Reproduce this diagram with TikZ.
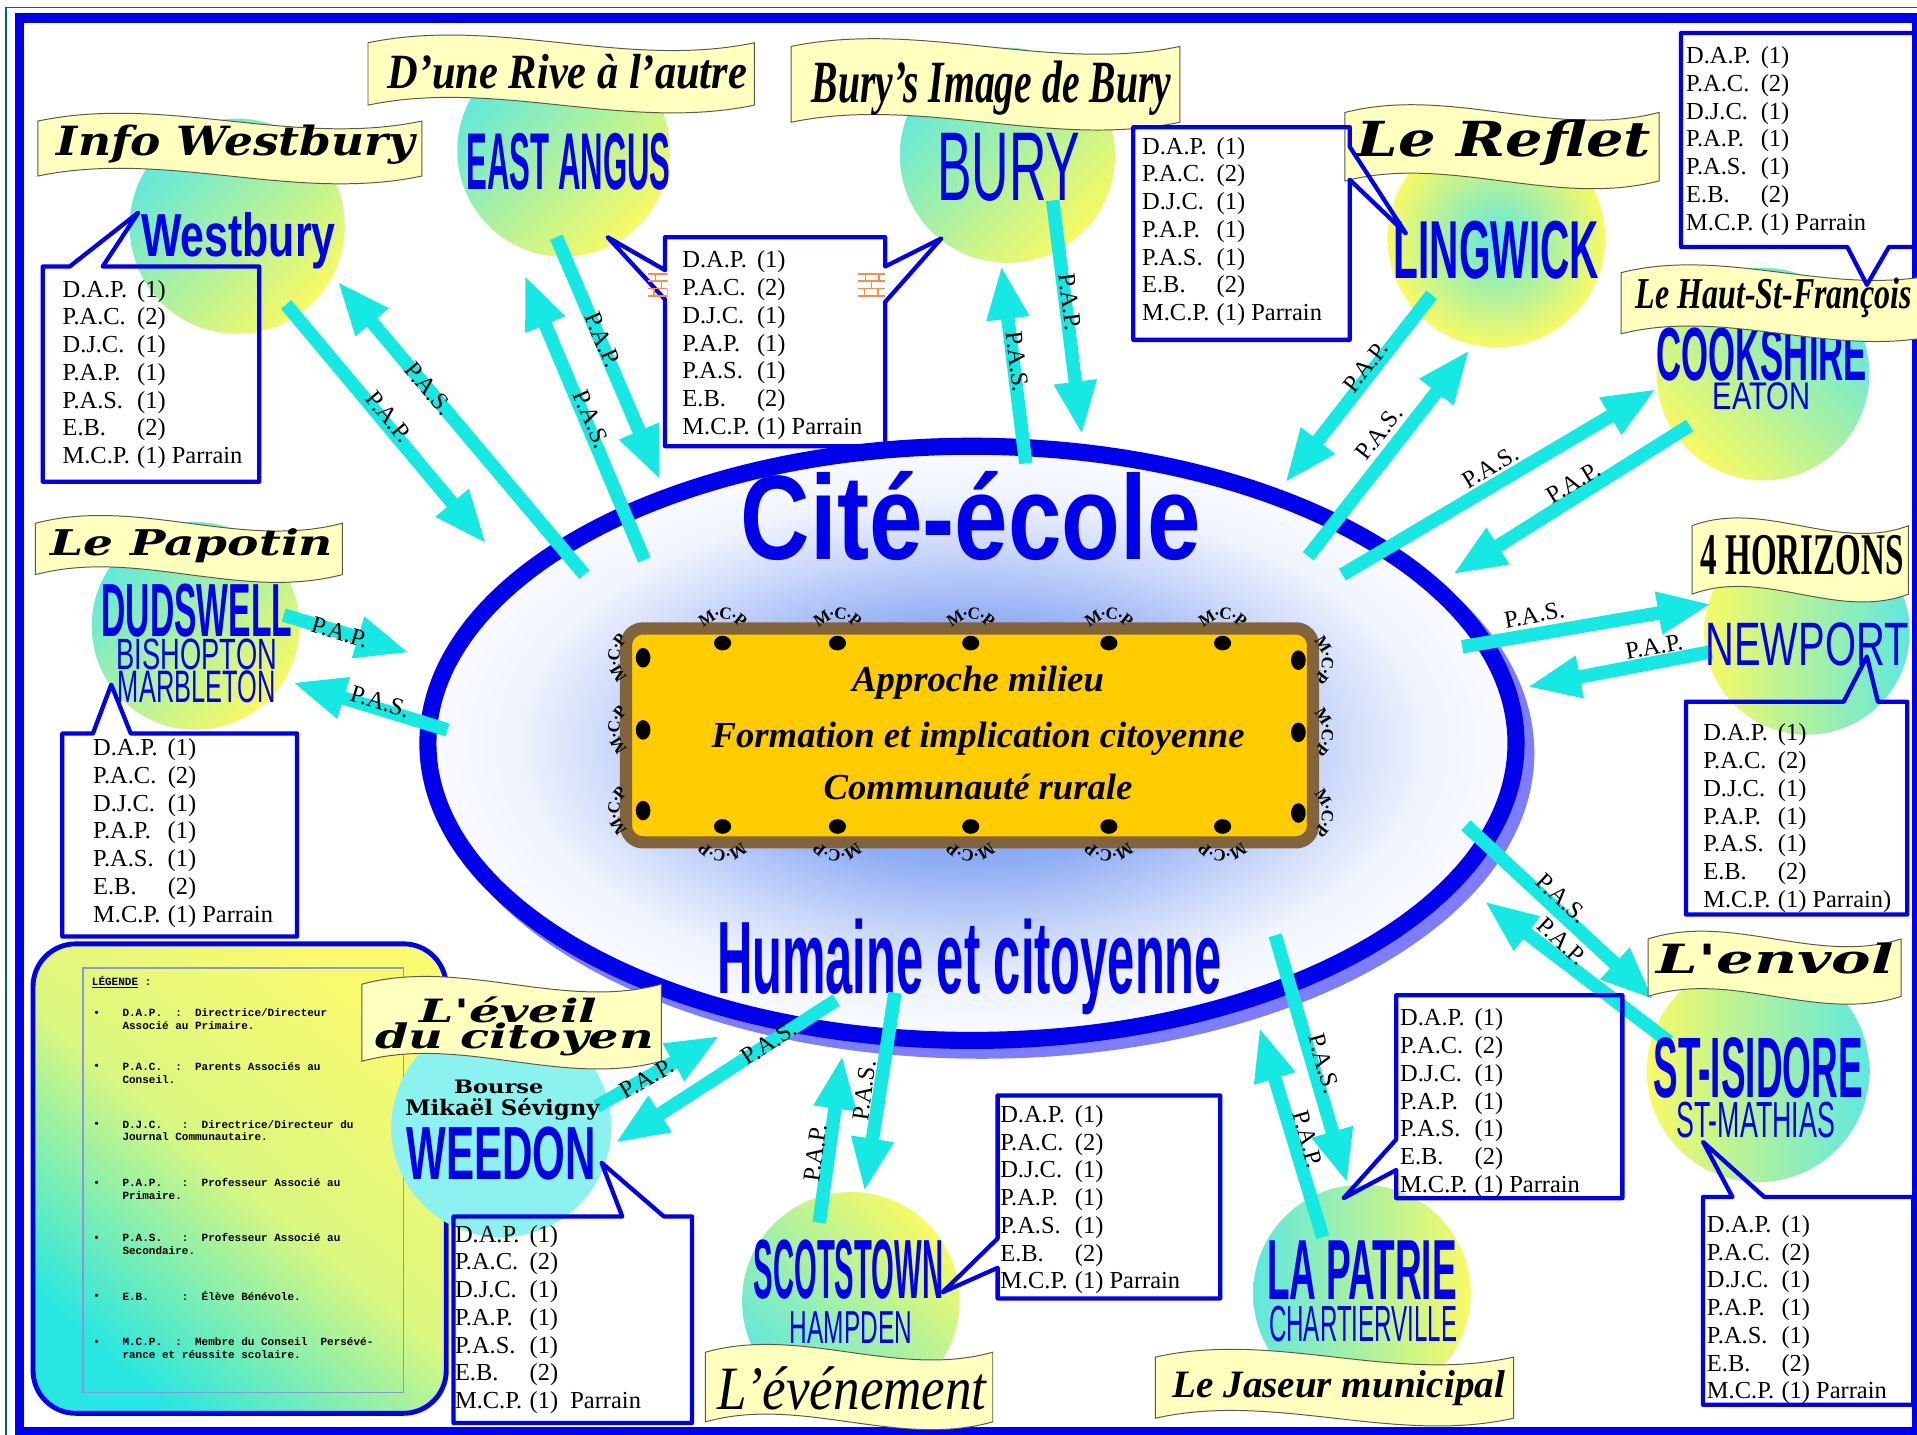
\documentclass[tikz,border=0pt]{standalone}
\usepackage{fontspec}
\setmainfont{Liberation Serif}
\newfontfamily\townfont{Liberation Sans}
\newfontfamily\wavefont{DejaVu Serif}
\newfontfamily\legfont{Liberation Mono}
\usetikzlibrary{arrows.meta,shapes.geometric,calc}

\definecolor{framecol}{RGB}{0,0,240}
\definecolor{tealline}{RGB}{0,105,105}
\definecolor{ellblue}{RGB}{0,0,235}
\definecolor{shadowblue}{RGB}{125,125,255}
\definecolor{glowblue}{RGB}{105,145,240}
\definecolor{gold}{RGB}{255,204,0}
\definecolor{boxbrown}{RGB}{130,100,60}
\definecolor{flowcyan}{RGB}{22,232,228}
\definecolor{gcyan}{RGB}{95,232,222}
\definecolor{gyellow}{RGB}{248,250,100}
\definecolor{weedcyan}{RGB}{140,242,240}
\definecolor{flagfill}{RGB}{255,255,190}
\definecolor{flagline}{RGB}{90,90,70}
\definecolor{nameblue}{RGB}{0,0,235}
\definecolor{legcyan}{RGB}{40,230,225}
\definecolor{legyellow}{RGB}{250,250,110}
\definecolor{leginner}{RGB}{140,150,220}
\definecolor{brickcol}{RGB}{255,140,70}

% glow inside the school: the ellipse edge sits at 25bp
\pgfdeclareradialshading{cityglow}{\pgfpoint{0bp}{0bp}}{%
  color(0bp)=(glowblue); color(10bp)=(glowblue!75!white);
  color(16bp)=(glowblue!38!white); color(21bp)=(glowblue!10!white);
  color(25bp)=(glowblue!4!white); color(50bp)=(glowblue!4!white)}

% names and banner texts, squeezed to the measured box
\newcommand\bigname[3]{\resizebox{#1pt}{#2pt}{\townfont\bfseries #3}}
\newcommand\subname[3]{\resizebox{#1pt}{#2pt}{\townfont #3}}
\newcommand\wavetext[3]{\resizebox{#1pt}{#2pt}{\wavefont\bfseries\itshape #3}}
\newcommand\slimtext[3]{\resizebox{#1pt}{#2pt}{\bfseries\itshape #3}}

% list of members in each box
\newcommand\roster[1]{%
  \begin{tabular}[t]{@{}l@{\hspace{6pt}}l@{}}
    D.A.P. & (1)\\ P.A.C. & (2)\\ D.J.C. & (1)\\ P.A.P. & (1)\\
    P.A.S. & (1)\\ E.B. & (2)\\ M.C.P. & (1) #1
  \end{tabular}}

% wavy banner: x0, x1, ytop, ybottom
\newcommand\flag[4]{%
  \filldraw[flagshape] (#1,#3) .. controls ({#1+(#2-#1)/3},{#3-22}) and ({#1+2*(#2-#1)/3},{#3+22}) .. (#2,#3)
    -- (#2,#4) .. controls ({#1+2*(#2-#1)/3},{#4+22}) and ({#1+(#2-#1)/3},{#4-22}) .. (#1,#4) -- cycle;}

% M.C.P. written round a dot: x, y, outward angle
\newcommand\mcparc[3]{%
  \foreach \ch/\da in {M/32,./11,C/-6,./-23,P/-38}{
    \node[mcp, rotate={#3+\da-90}] at ({#1+24*cos(#3+\da)},{#2-24*sin(#3+\da)}) {\ch};}}

% small orange bricks
\newcommand\brickicon[2]{%
  \begin{scope}[shift={(#1,#2)}]
    \draw[brickcol, line width=1.2pt] (-11,-9) -- (11,-9) (-11,-3) -- (11,-3) (-11,3) -- (11,3) (-11,9) -- (11,9)
      (-5,-9) -- (-5,-3) (6,-9) -- (6,-3) (0,-3) -- (0,3) (-6,3) -- (-6,9) (5,3) -- (5,9);
  \end{scope}}

\begin{document}
\begin{tikzpicture}[x=1pt, y=-1pt,
    flow/.style={draw=flowcyan, line width=11pt, -{Triangle[length=44pt,width=32pt]}},
    lbl/.style={inner sep=0pt, font=\fontsize{20}{20}\selectfont},
    globe/.style={circle, inner sep=0pt, minimum size=#1},
    cyanTL/.style={shade, top color=gcyan, bottom color=gyellow, shading angle=45},
    cyanTR/.style={shade, top color=gcyan, bottom color=gyellow, shading angle=-45},
    cyanBL/.style={shade, top color=gyellow, bottom color=gcyan, shading angle=-45},
    cyanR/.style={shade, left color=gyellow, right color=gcyan},
    cyanL/.style={shade, left color=gcyan, right color=gyellow},
    cyanMid/.style={shade, inner color=gcyan, outer color=gyellow},
    townlbl/.style={inner sep=0pt, anchor=base, text=nameblue},
    flagshape/.style={fill=flagfill, draw=flagline, line width=0.8pt},
    flagtxt/.style={inner sep=0pt, anchor=base},
    listbox/.style={draw=ellblue, line width=3.5pt, line join=round},
    members/.style={inner sep=0pt, anchor=base west, font=\fontsize{20}{22.7}\selectfont},
    mcp/.style={inner sep=0pt, font=\bfseries\fontsize{14}{14}\selectfont},
    legitem/.style={inner sep=0pt, anchor=north west, align=left, font=\legfont\bfseries\fontsize{9}{10.5}\selectfont}
  ]
  \fill[white] (0,0) rectangle (1568,1173);
  \useasboundingbox (0,0) rectangle (1568,1173);
  \clip (0,0) rectangle (1568,1173);

  % Frame
  \draw[tealline, line width=1.2pt] (5,6) rectangle (1590,1190);
  \draw[framecol, line width=8pt] (16,15) rectangle (1568,1171);

  % The school
  \draw[shadowblue, line width=14pt] (803,616) ellipse [x radius=445, y radius=243];
  \node[ellipse, shade, shading=cityglow, draw=ellblue, line width=14pt, minimum width=890pt, minimum height=486pt, inner sep=0pt] (cite) at (795,608) {};
  \node[draw=boxbrown, fill=gold, line width=10pt, rounded corners=14pt, minimum width=562pt, minimum height=175pt, inner sep=0pt] (core) at (793,601.5) {};

  % Dots and M.C.P. round the core
  \foreach \px in {591,685,794,907,1000}{
    \fill (\px,526) ellipse [x radius=7, y radius=6];
    \fill (\px,676) ellipse [x radius=7, y radius=6];
    \mcparc{\px}{526}{90}
    \mcparc{\px}{676}{270}
  }
  \foreach \py in {538,597,663}{
    \fill (526,\py) ellipse [x radius=6, y radius=8];
    \fill (1062,\py+2) ellipse [x radius=6, y radius=8];
    \mcparc{526}{\py}{180}
    \mcparc{1062}{\py+2}{0}
  }
  \node[inner sep=0pt, anchor=base, font=\bfseries\itshape\fontsize{30}{30}\selectfont] (aim1) at (800,566) {Approche milieu};
  \node[inner sep=0pt, anchor=base, font=\bfseries\itshape\fontsize{30}{30}\selectfont] (aim2) at (800,611) {Formation et implication citoyenne};
  \node[inner sep=0pt, anchor=base, font=\bfseries\itshape\fontsize{30}{30}\selectfont] (aim3) at (800,654) {Communauté rurale};

  \node[townlbl] (title1) at (794,458) {\bigname{376}{72}{Cité-école}};
  \node[townlbl] (title2) at (793,813) {\bigname{413}{61}{Humaine et citoyenne}};

  % Legend
  \shade[rounded corners=35pt, top color=legyellow, bottom color=legcyan, middle color=legyellow!85!legcyan, shading angle=-40] (27,772) rectangle (365,1156);
  \draw[framecol, line width=4pt, rounded corners=35pt] (27,772) rectangle (365,1156);
  \draw[leginner, line width=1.5pt] (68,792) rectangle (330,1139);
  \node[legitem, anchor=base west] (legtitle) at (75,806) {\underline{LÉGENDE} :};
  \foreach \yy in {829,873,920,968,1013,1061,1098}
    \node[legitem, anchor=center] (bul-\yy) at (79,\yy) {\textbullet};
  \node[legitem] (leg1) at (100,825) {D.A.P.~~:~~Directrice/Directeur\\Associé au Primaire.};
  \node[legitem] (leg2) at (100,869) {P.A.C.~~:~~Parents Associés au\\Conseil.};
  \node[legitem] (leg3) at (100,916) {D.J.C.~~~:~~Directrice/Directeur du\\Journal Communautaire.};
  \node[legitem] (leg4) at (100,964) {P.A.P.~~~:~~Professeur Associé au\\Primaire.};
  \node[legitem] (leg5) at (100,1009) {P.A.S.~~~:~~Professeur Associé au\\Secondaire.};
  \node[legitem] (leg6) at (100,1056) {E.B.~~~~~:~~Élève Bénévole.};
  \node[legitem] (leg7) at (100,1094) {M.C.P.~~:~~Membre du Conseil~~Persévé-\\rance et réussite scolaire.};

  % Towns
  \node[globe=176pt, cyanTL] (westbury) at (194,185) {};
  \node[globe=174pt, cyanTL] (eastangus) at (461,123) {};
  \node[globe=176pt, cyanTL] (bury) at (824,127) {};
  \node[globe=178pt, cyanMid] (lingwick) at (1224,195) {};
  \node[globe=174pt, cyanTR] (cookshire) at (1442,306) {};
  \node[globe=168pt, cyanR] (newport) at (1478,517) {};
  \node[globe=182pt, cyanR] (stisidore) at (1438,876) {};
  \node[globe=178pt, cyanL] (lapatrie) at (1114,1058) {};
  \node[globe=178pt, cyanBL] (scotstown) at (696,1064) {};
  \node[globe=180pt, fill=weedcyan] (weedon) at (410,922) {};
  \node[globe=170pt, cyanTL] (dudswell) at (160,512) {};

  % Exchanges
  \foreach \nm/\sx/\sy/\ex/\ey in {wb-pap/234/249/398/445, wb-pas/478/470/276/230,
      ea-pap/455/194/540/393, ea-pas/527/458/429/225,
      bu-pas/839/379/819/217, bu-pap/861/164/885/356,
      li-pap/1171/241/1051/395, li-pas/1070/455/1202/286,
      co-pas/1098/470/1355/318, co-pap/1382/348/1188/470,
      ne-pas/1196/529/1400/494, ne-pap/1400/533/1249/562,
      si-pas/1199/675/1353/818, si-pap/1365/852/1214/737,
      lp-pas/1043/765/1102/968, lp-pap/1082/1012/1030/840,
      sc-pap/670/1000/689/863, sc-pas/732/812/707/975,
      we-pap/488/905/589/847, we-pas/684/818/503/935,
      du-pap/232/503/335/534, du-pas/366/597/239/558}{
    \coordinate (\nm-s) at (\sx,\sy);
    \coordinate (\nm-e) at (\ex,\ey);
    \draw[flow] (\nm-s) -- (\nm-e);
  }

  % Town names
  \node[townlbl] (n-westbury) at (195,210) {\bigname{159}{36}{Westbury}};
  \node[townlbl] (n-eastangus) at (465,155) {\bigname{167}{46}{EAST ANGUS}};
  \node[townlbl] (n-bury) at (825,164) {\subname{117}{55}{BURY}};
  \node[townlbl] (n-lingwick) at (1224,228) {\bigname{168}{47}{LINGWICK}};
  \node[townlbl] (n-cookshire) at (1441,311) {\bigname{172}{43}{COOKSHIRE}};
  \node[townlbl] (n-eaton) at (1441,335) {\subname{80}{22}{EATON}};
  \node[townlbl] (n-newport) at (1478,544) {\subname{166}{35}{NEWPORT}};
  \node[townlbl] (n-stisidore) at (1438,898) {\bigname{171}{49}{ST-ISIDORE}};
  \node[townlbl] (n-stmathias) at (1436,930) {\subname{130}{29}{ST-MATHIAS}};
  \node[townlbl] (n-lapatrie) at (1114,1063) {\bigname{155}{48}{LA PATRIE}};
  \node[townlbl] (n-chartierville) at (1115,1097) {\subname{154}{29}{CHARTIERVILLE}};
  \node[townlbl] (n-scotstown) at (694,1062) {\bigname{155}{48}{SCOTSTOWN}};
  \node[townlbl] (n-hampden) at (696,1099) {\subname{100}{26}{HAMPDEN}};
  \node[townlbl] (n-weedon) at (410,965) {\bigname{155}{43}{WEEDON}};
  \node[townlbl] (n-dudswell) at (161,521) {\bigname{156}{43}{DUDSWELL}};
  \node[townlbl] (n-bishopton) at (161,548) {\subname{131}{25}{BISHOPTON}};
  \node[townlbl] (n-marbleton) at (161,575) {\subname{129}{26}{MARBLETON}};
  \node[inner sep=0pt, anchor=base] (bourse) at (408,894) {\resizebox{73pt}{11pt}{\wavefont\bfseries Bourse}};
  \node[inner sep=0pt, anchor=base] (mikael) at (411,912) {\resizebox{159pt}{14pt}{\wavefont\bfseries Mikaël Sévigny}};

  % Banners of the papers
  \flag{31}{345}{99}{144}
  \flag{301}{617}{35}{86}
  \flag{647}{965}{38}{100}
  \flag{1100}{1357}{92}{148}
  \flag{1326}{1590}{223}{273}
  \flag{1384}{1561}{430}{486}
  \flag{29}{280}{428}{470}
  \flag{1348}{1555}{768}{815}
  \flag{296}{541}{805}{868}
  \flag{577}{812}{1106}{1163}
  \flag{945}{1238}{1110}{1160}
  \node[flagtxt] (f-westbury) at (193,127) {\wavetext{293}{25}{Info Westbury}};
  \node[flagtxt] (f-eastangus) at (464,72) {\slimtext{294}{28}{D'une Rive à l'autre}};
  \node[flagtxt] (f-bury) at (811,84) {\slimtext{294}{34}{Bury's Image de Bury}};
  \node[flagtxt] (f-lingwick) at (1230,128) {\wavetext{241}{30}{Le Reflet}};
  \node[flagtxt] (f-cookshire) at (1451,252) {\slimtext{226}{25}{Le Haut-St-François}};
  \node[flagtxt] (f-newport) at (1474,470) {\resizebox{166pt}{32pt}{\bfseries 4 HORIZONS}};
  \node[flagtxt] (f-dudswell) at (157,454) {\wavetext{231}{22}{Le Papotin}};
  \node[flagtxt] (f-stisidore) at (1452,796) {\wavetext{194}{25}{L'envol}};
  \node[flagtxt] (f-weedon1) at (416,836) {\wavetext{145}{21}{L'éveil}};
  \node[flagtxt] (f-weedon2) at (421,858) {\wavetext{228}{21}{du citoyen}};
  \node[flagtxt] (f-scotstown) at (697,1153) {\resizebox{220pt}{35pt}{\itshape L'événement}};
  \node[flagtxt] (f-lapatrie) at (1095,1143) {\slimtext{272}{22}{Le Jaseur municipal}};

  % Member boxes
  \draw[listbox] (35,218) -- (57,218) -- (113,174) -- (84,218) -- (212,218) -- (212,394) -- (35,394) -- cycle;
  \draw[listbox] (544,194) -- (724,194) -- (724,218) -- (770,195) -- (724,247) -- (724,365) -- (544,365) -- (544,245) -- (497,194) -- (544,221) -- cycle;
  \draw[listbox] (927,104) -- (1104,104) -- (1104,120) -- (1150,191) -- (1104,147) -- (1104,278) -- (927,278) -- cycle;
  \draw[listbox] (1375,27) -- (1566,27) -- (1566,202) -- (1545,202) -- (1527,233) -- (1511,202) -- (1375,202) -- cycle;
  \draw[listbox] (1379,574) -- (1508,574) -- (1527,537) -- (1536,574) -- (1560,574) -- (1560,748) -- (1379,748) -- cycle;
  \draw[listbox] (1393,979) -- (1417,979) -- (1393,934) -- (1443,979) -- (1565,979) -- (1565,1149) -- (1393,1149) -- cycle;
  \draw[listbox] (1142,814) -- (1327,814) -- (1327,980) -- (1142,980) -- (1142,957) -- (1099,980) -- (1142,932) -- cycle;
  \draw[listbox] (816,896) -- (998,896) -- (998,1062) -- (816,1062) -- (816,1037) -- (771,1057) -- (816,1013) -- cycle;
  \draw[listbox] (371,995) -- (509,995) -- (492,951) -- (543,995) -- (566,995) -- (566,1164) -- (371,1164) -- cycle;
  \draw[listbox] (51,600) -- (76,600) -- (91,560) -- (107,600) -- (243,600) -- (243,766) -- (51,766) -- cycle;
  \brickicon{713}{233}
  \begin{scope}
    \clip (530,220) rectangle (546,246);
    \brickicon{541}{233}
  \end{scope}

  \node[members] (l-westbury) at (51,243) {\roster{Parrain}};
  \node[members] (l-eastangus) at (558,219) {\roster{Parrain}};
  \node[members] (l-lingwick) at (934,126) {\roster{Parrain}};
  \node[members] (l-cookshire) at (1379,52) {\roster{Parrain}};
  \node[members] (l-newport) at (1393,606) {\roster{Parrain)}};
  \node[members] (l-stisidore) at (1396,1008) {\roster{Parrain}};
  \node[members] (l-lapatrie) at (1145,839) {\roster{Parrain}};
  \node[members] (l-scotstown) at (818,918) {\roster{Parrain}};
  \node[members] (l-weedon) at (372,1016) {\roster{~Parrain}};
  \node[members] (l-dudswell) at (76,618) {\roster{Parrain}};

  % Labels on the exchanges
  \foreach \nm/\lx/\ly/\rt/\tx in {wb-pas/351/318/-50/P.A.S., wb-pap/318/341/-50/P.A.P.,
      ea-pap/493/278/-67/P.A.P., ea-pas/484/343/-67/P.A.S.,
      bu-pap/875/247/-83/P.A.P., bu-pas/832/296/-83/P.A.S.,
      li-pap/1117/300/52/P.A.P., li-pas/1128/354/52/P.A.S.,
      co-pas/1219/382/31/P.A.S., co-pap/1287/395/31/P.A.P.,
      ne-pas/1255/503/10/P.A.S., ne-pap/1353/529/10/P.A.P.,
      si-pas/1278/735/-43/P.A.S., si-pap/1278/770/-43/P.A.P.,
      lp-pas/1083/870/-74/P.A.S., lp-pap/1070/932/-74/P.A.P.,
      sc-pap/667/943/82/P.A.P., sc-pas/707/892/82/P.A.S.,
      we-pap/529/882/30/P.A.P., we-pas/629/853/33/P.A.S.,
      du-pap/278/517/-17/P.A.P., du-pas/311/574/-17/P.A.S.}{
    \node[lbl, rotate=\rt] (\nm-lbl) at (\lx,\ly) {\tx};
  }
\end{tikzpicture}
\end{document}
